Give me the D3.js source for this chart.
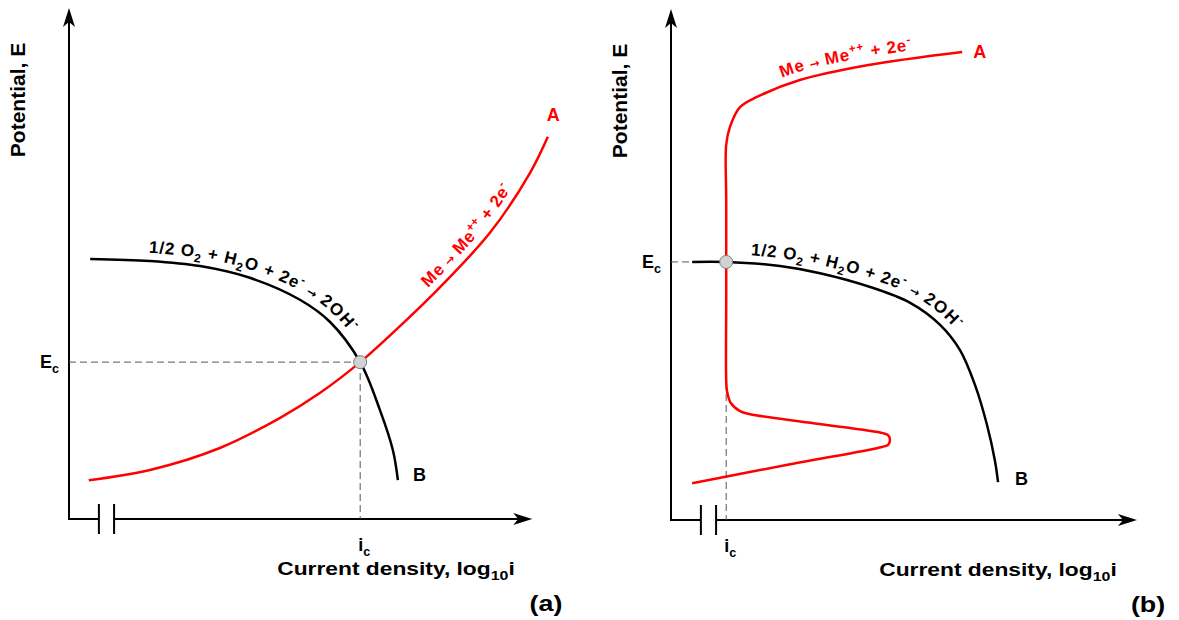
<!DOCTYPE html>
<html>
<head>
<meta charset="utf-8">
<script src="https://cdn.jsdelivr.net/npm/d3@7"></script>
<style>
  html, body { margin: 0; padding: 0; background: #fff; }
  svg { display: block; }
</style>
</head>
<body>
<svg id="chart" width="1179" height="620"></svg>
<script>
// ---------------------------------------------------------------
// Evans diagrams: potential vs. log current density (schematic units 0–10)
// ---------------------------------------------------------------

// Panel (a): actively corroding metal
const cathodicA = [[0.46,5.09],[1.76,5.05],[2.85,4.95],[3.93,4.72],[5.02,4.29],[5.67,3.86],[6.33,3.07],[6.76,2.13],[7.04,1.35],[7.15,0.76]];
const anodicA   = [[0.43,0.76],[1.76,0.96],[3.28,1.39],[4.59,1.98],[5.46,2.47],[6.33,3.07],[7.20,3.78],[7.85,4.34],[9.15,5.60],[10.02,6.77],[10.41,7.48]];
const corrosionA = [6.33, 3.07];   // [i_c, E_c]

// Panel (b): active–passive metal
const cathodicB = [[0.46,5.05],[1.20,5.05],[2.37,4.97],[3.24,4.83],[4.33,4.56],[5.20,4.25],[5.85,3.82],[6.28,3.33],[6.61,2.64],[6.87,1.86],[7.04,1.17],[7.11,0.74]];
const anodicB   = [[0.46,0.72],[2.59,1.09],[4.59,1.43],[4.72,1.47],[4.76,1.57],[4.72,1.66],[4.61,1.70],[3.13,1.89],[1.72,2.07],
                   [1.50,2.13],[1.30,2.29],[1.22,2.51],[1.20,2.74],[1.20,4.31],[1.20,6.26],[1.20,7.34],[1.28,7.69],[1.50,8.08],
                   [1.87,8.28],[2.80,8.61],[4.26,8.90],[6.33,9.16]];
const corrosionB = [1.20, 5.05];

// Text
const panelTags   = ["(a)", "(b)"];
const yTitle      = "Potential, E";
const xTitle      = [["Current density, log", "n"], ["10", "sub"], ["i", "n"]];
const cathodicEq  = [["1/2 O","n"],["2","sub"],[" + H","n"],["2","sub"],["O + 2e","n"],["-","sup"],[" \u2192 ","arr"],["2OH","n"],["-","sup"]];
const anodicEq    = [["Me","n"],[" \u2192 ","arr"],["Me","n"],["++","sup"],[" + 2e","n"],["-","sup"]];
const endLabels   = ["A", "B"];
const potLabel    = [["E","n"],["c","sub"]];
const curLabel    = [["i","n"],["c","sub"]];

// ---------------------------------------------------------------
const FONT = '"Liberation Sans", Arial, Helvetica, sans-serif';
const ARROW_FONT = '"DejaVu Sans", sans-serif';
const RED = "#ff0000";
const svg = d3.select("#chart");
let uid = 0;

function arrowHead(g, tipX, tipY, dir) {
  // notched arrowhead; dir = "up" or "right"
  const L = 19, W = 6, N = 5;
  const pts = dir === "up"
    ? [[tipX, tipY], [tipX - W, tipY + L], [tipX, tipY + L - N], [tipX + W, tipY + L]]
    : [[tipX, tipY], [tipX - L, tipY - W], [tipX - L + N, tipY], [tipX - L, tipY + W]];
  g.append("path").attr("d", "M" + pts.map(p => p.join(",")).join("L") + "Z").attr("fill", "#000");
}

// Appends tspans (normal / subscript / superscript / small arrow) to a text or textPath
function richText(parent, parts, size, baseShift) {
  let shift = 0, first = true;
  parts.forEach(([t, k]) => {
    const target = k === "sub" ? size * 0.28 : k === "sup" ? -size * 0.42 : 0;
    const fs = (k === "sub" || k === "sup") ? size * 0.7 : k === "arr" ? size * 0.7 : size;
    let dy = target - shift;
    if (first) { dy += baseShift || 0; first = false; }
    const ts = parent.append("tspan").attr("font-size", fs).attr("dy", dy).text(t);
    if (k === "arr") ts.attr("font-family", ARROW_FONT);
    shift = target;
  });
}

function curveLabel(g, line, pts, startPx, offset, parts, color, size) {
  const id = "lblpath" + (uid++);
  const p = g.append("path").attr("id", id).attr("d", line(pts)).attr("fill", "none").attr("stroke", "none");
  const node = p.node(), total = node.getTotalLength();
  let s = 0;
  while (s < total && node.getPointAtLength(s).x < startPx) s += 0.5;
  const text = g.append("text").attr("font-family", FONT).attr("font-weight", "bold")
    .attr("font-size", size).attr("letter-spacing", 0.7).attr("fill", color);
  const tp = text.append("textPath").attr("href", "#" + id).attr("startOffset", s);
  richText(tp, parts, size, -offset);
}

function drawPanel(cfg) {
  const x = d3.scaleLinear().domain([0, 10]).range([cfg.left, cfg.left + 460]);
  const y = d3.scaleLinear().domain([0, 10]).range([cfg.bottom, cfg.bottom - 511]);
  const g = svg.append("g");
  const line = d3.line().x(d => x(d[0])).y(d => y(d[1])).curve(d3.curveCatmullRom.alpha(0.5));
  const [ic, Ec] = cfg.corr;

  // axes
  const axis = g.append("g").attr("stroke", "#000").attr("stroke-width", 2).attr("fill", "none");
  const yTip = y(cfg.yTop), xTip = x(cfg.xTip);
  axis.append("path").attr("d", `M${x(0)},${y(0)}V${yTip + 14}`);
  axis.append("path").attr("d", `M${x(0) - 1},${y(0)}H${x(cfg.brk[0])}M${x(cfg.brk[1])},${y(0)}H${xTip - 14}`);
  cfg.brk.forEach(b => axis.append("path").attr("d", `M${x(b)},${y(0) - 15}V${y(0) + 15}`));
  arrowHead(g, x(0), yTip, "up");
  arrowHead(g, xTip, y(0), "right");

  // corrosion-point guides
  const guide = g.append("g").attr("stroke", "#555").attr("stroke-width", 1).attr("stroke-dasharray", "7,4").attr("fill", "none");
  guide.append("path").attr("d", `M${x(0)},${y(Ec)}H${x(ic)}`);
  guide.append("path").attr("d", `M${x(ic)},${y(Ec)}V${y(0)}`);

  // polarization curves
  g.append("path").attr("d", line(cfg.cathodic)).attr("fill", "none").attr("stroke", "#000").attr("stroke-width", 2.5);
  g.append("path").attr("d", line(cfg.anodic)).attr("fill", "none").attr("stroke", RED).attr("stroke-width", 2.5);
  g.append("circle").attr("cx", x(ic)).attr("cy", y(Ec)).attr("r", 6.5)
    .attr("fill", "#d2d2d2").attr("stroke", "#7d7d7d").attr("stroke-width", 1);

  // labels along the curves
  curveLabel(g, line, cfg.cathodic, x(cfg.catStart), 8, cathodicEq, "#000", 17);
  curveLabel(g, line, cfg.anodicTextPts, x(cfg.anStart), 8, anodicEq, RED, 17);

  // horizontal text, optionally widened
  const txt = (px, py, anchor, size, color, sx) => g.append("g")
    .attr("transform", `translate(${px},${py}) scale(${sx || 1},1)`)
    .append("text").attr("text-anchor", anchor).attr("font-family", FONT).attr("font-weight", "bold")
    .attr("font-size", size).attr("fill", color || "#000");

  // curve end letters
  const aEnd = cfg.anodic[cfg.anodic.length - 1], bEnd = cfg.cathodic[cfg.cathodic.length - 1];
  txt(x(aEnd[0]) + cfg.aOff[0], y(aEnd[1]) + cfg.aOff[1], "start", 18, RED).text(endLabels[0]);
  txt(x(bEnd[0]) + cfg.bOff[0], y(bEnd[1]) + cfg.bOff[1], "start", 18).text(endLabels[1]);

  // E_c and i_c
  richText(txt(x(0) - 10, y(Ec) + 6, "end", 18), potLabel, 18, 0);
  richText(txt(x(ic) - 2, y(0) + 32, "start", 18), curLabel, 18, 0);

  // axis titles
  g.append("text").attr("transform", `translate(${x(0) - 44},${y(8.2)}) rotate(-90)`)
    .attr("text-anchor", "middle").attr("font-family", FONT).attr("font-weight", "bold")
    .attr("font-size", 21).text(yTitle);
  richText(txt(x(0) + 327, y(0) + 56, "middle", 19, "#000", 1.2), xTitle, 19, 0);
  txt(x(0) + 477, y(0) + 92, "middle", 22, "#000", 1.22).text(cfg.tag);
}

drawPanel({
  left: 69, bottom: 519, yTop: 10, xTip: 10.07, brk: [0.65, 0.98],
  cathodic: cathodicA, anodic: anodicA, anodicTextPts: anodicA, corr: corrosionA,
  catStart: 1.72, anStart: 7.93, aOff: [-1, -16], bOff: [15, 1], tag: panelTags[0]
});

drawPanel({
  left: 671, bottom: 520, yTop: 10, xTip: 10.13, brk: [0.65, 0.98],
  cathodic: cathodicB, anodic: anodicB, anodicTextPts: anodicB.slice(anodicB.findIndex(d => d[1] > 8.2)),
  corr: corrosionB,
  catStart: 1.72, anStart: 2.46, aOff: [11, 6], bOff: [17, 3], tag: panelTags[1]
});
</script>
</body>
</html>
